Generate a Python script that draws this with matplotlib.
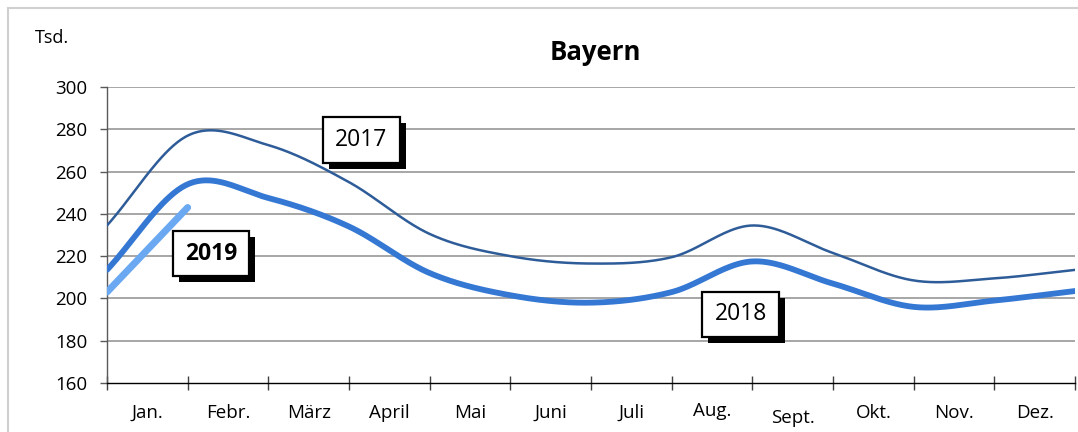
import numpy as np
import matplotlib
matplotlib.use("Agg")
import matplotlib.pyplot as plt
from matplotlib.patches import Rectangle
from matplotlib.transforms import ScaledTranslation

plt.rcParams['font.family'] = ['Open Sans', 'DejaVu Sans']

# ---- data (Tsd.) ----
months = ["Jan.", "Febr.", "März", "April", "Mai", "Juni", "Juli",
          "Aug.", "Sept.", "Okt.", "Nov.", "Dez."]
y2017 = [234.5, 277, 272.5, 255, 230.5, 220, 216.5, 219.5, 234.5, 221.5, 208.5, 209.5, 213.5]
y2018 = [213.5, 254, 247.5, 234, 212, 201.5, 198, 203, 217.5, 207, 196, 199, 203.5]
y2019 = [203, 243]
yticks = [160, 180, 200, 220, 240, 260, 280, 300]

W, H = 1078, 432


def smooth(vals, n=40):
    """Excel-style smoothed line (Catmull-Rom through the points)."""
    p = np.asarray(vals, float)
    x = np.arange(len(p), dtype=float)
    ext = np.concatenate([[2 * p[0] - p[1]], p, [2 * p[-1] - p[-2]]])
    xs, ys = [], []
    for i in range(len(p) - 1):
        p0, p1, p2, p3 = ext[i], ext[i + 1], ext[i + 2], ext[i + 3]
        m1 = (p2 - p0) / 2.0
        m2 = (p3 - p1) / 2.0
        t = np.linspace(0, 1, n, endpoint=(i == len(p) - 2))
        h00 = 2 * t**3 - 3 * t**2 + 1
        h10 = t**3 - 2 * t**2 + t
        h01 = -2 * t**3 + 3 * t**2
        h11 = t**3 - t**2
        xs.append(x[i] + t)
        ys.append(h00 * p1 + h10 * m1 + h01 * p2 + h11 * m2)
    return np.concatenate(xs), np.concatenate(ys)


fig = plt.figure(figsize=(W / 100, H / 100), dpi=100)
ax = fig.add_axes([107 / W, 1 - 383 / H, (1075 - 107) / W, (383 - 87) / H])

ax.set_xlim(0, len(months))
ax.set_ylim(160, 300)

for y in yticks[1:]:
    ax.axhline(y, color="#A6A6A6", lw=1.4, zorder=1)

xs, ys = smooth(y2017)
ax.plot(xs, ys, color="#2E5C99", lw=1.8, zorder=3, solid_capstyle="round")
xs, ys = smooth(y2018)
ax.plot(xs, ys, color="#3478D4", lw=4.2, zorder=3, solid_capstyle="round")
xs, ys = smooth(y2019)
ax.plot(xs, ys, color="#6AA8F2", lw=5.0, zorder=4, solid_capstyle="round")

for s in ["top", "right"]:
    ax.spines[s].set_visible(False)
ax.spines["left"].set_color("#595959")
ax.spines["left"].set_linewidth(1.0)
ax.spines["bottom"].set_color("#000000")
ax.spines["bottom"].set_linewidth(1.0)

ax.set_yticks(yticks)
ax.set_yticklabels([str(v) for v in yticks])
ax.tick_params(axis="y", direction="out", length=5, width=1.0, color="#595959",
               labelsize=13.5, pad=9)

ax.set_xticks(np.arange(len(months) + 1))
ax.set_xticklabels([])
ax.tick_params(axis="x", which="major", direction="inout", length=10, width=1.0,
               color="#404040")
ax.set_xticks(np.arange(len(months)) + 0.5, minor=True)
ax.set_xticklabels(months, minor=True)
ax.tick_params(axis="x", which="minor", length=0, labelsize=13.5, pad=15)
for lab in ax.get_xticklabels(minor=True):
    if lab.get_text() == "Sept.":
        lab.set_transform(lab.get_transform() + ScaledTranslation(0, -5 / 100, fig.dpi_scale_trans))
    elif lab.get_text() == "Aug.":
        lab.set_transform(lab.get_transform() + ScaledTranslation(0, 2 / 100, fig.dpi_scale_trans))

# title and unit
fig.text(595 / W, 1 - 52 / H, "Bayern", ha="center", va="center",
         fontsize=18.5, fontweight="bold")
fig.text(35 / W, 1 - 38 / H, "Tsd.", ha="left", va="center", fontsize=13)

# outer chart frame
fig.patches.append(Rectangle((8 / W, -0.1), 1.2, 1 - 8 / H + 0.1,
                             transform=fig.transFigure, fill=False,
                             edgecolor="#D0D0D0", lw=1.5))


def label_box(x0, y0, x1, y1, text, bold=False):
    sh = 6
    fig.patches.append(Rectangle(((x0 + sh) / W, 1 - (y1 + sh) / H),
                                 (x1 - x0) / W, (y1 - y0) / H,
                                 transform=fig.transFigure, facecolor="black",
                                 edgecolor="none", zorder=10))
    fig.patches.append(Rectangle((x0 / W, 1 - y1 / H), (x1 - x0) / W, (y1 - y0) / H,
                                 transform=fig.transFigure, facecolor="white",
                                 edgecolor="black", lw=1.6, zorder=11))
    fig.text((x0 + x1) / 2 / W, 1 - (y0 + y1) / 2 / H, text, ha="center", va="center",
             fontsize=16.5, fontweight="bold" if bold else "normal", zorder=12)


label_box(323, 117, 400, 163, "2017")
label_box(173, 231, 249, 276, "2019", bold=True)
label_box(702, 292, 779, 337, "2018")

fig.savefig("out.png", dpi=100)
